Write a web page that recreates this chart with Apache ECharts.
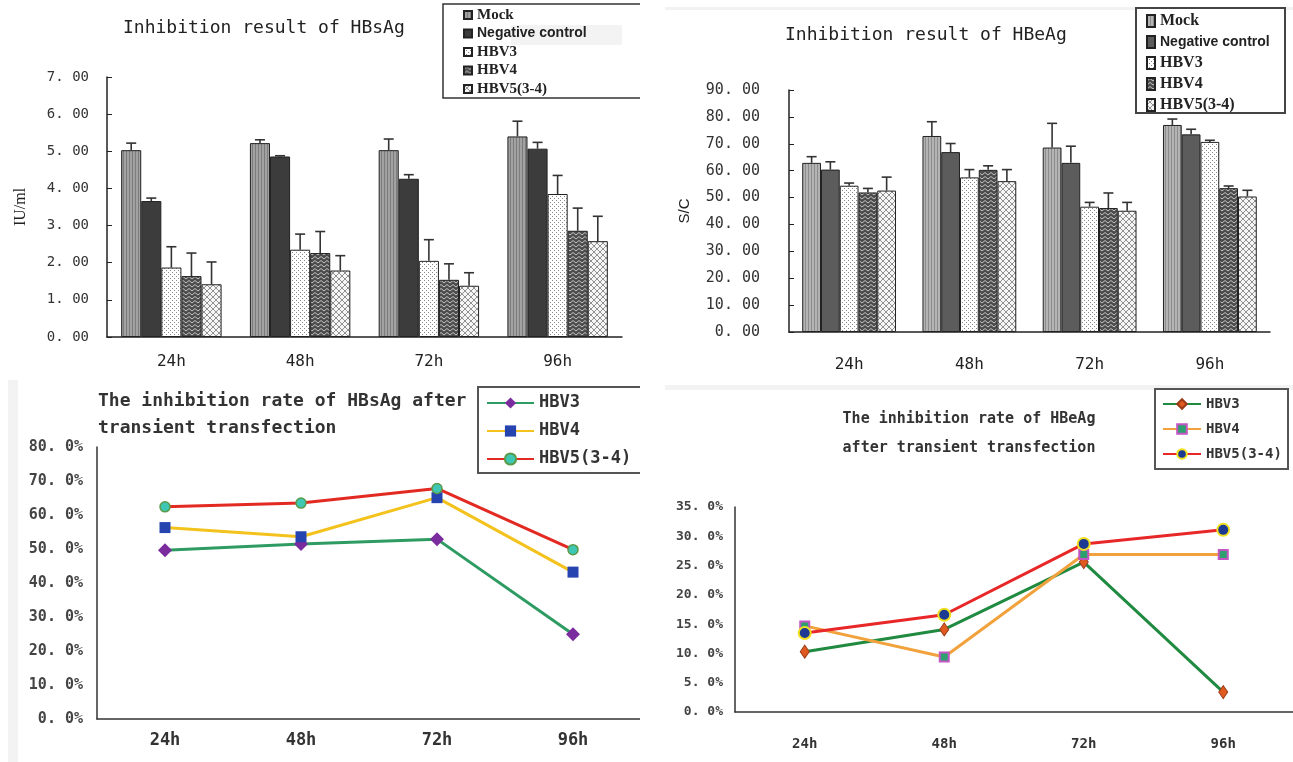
<!DOCTYPE html>
<html>
<head>
<meta charset="utf-8">
<script src="https://cdn.jsdelivr.net/npm/echarts@6/dist/echarts.min.js"></script>
<style>
  html, body { margin: 0; padding: 0; background: #fff; }
  .panel { position: absolute; }
</style>
</head>
<body>
<div id="hbsBar" class="panel" style="left:0;top:0;width:640px;height:380px"></div>
<div id="hbeBar" class="panel" style="left:640px;top:0;width:653px;height:380px"></div>
<div id="hbsRate" class="panel" style="left:0;top:380px;width:640px;height:382px"></div>
<div id="hbeRate" class="panel" style="left:640px;top:380px;width:653px;height:382px"></div>
<script>
const hours = ['24h', '48h', '72h', '96h']
const barGroups = ['Mock', 'Negative control', 'HBV3', 'HBV4', 'HBV5(3-4)']
const rateGroups = ['HBV3', 'HBV4', 'HBV5(3-4)']

// HBsAg, IU/ml (mean and sd)
const hbsMock = [5.03, 5.22, 5.03, 5.40]
const hbsMockSd = [0.19, 0.09, 0.30, 0.41]
const hbsNeg = [3.66, 4.86, 4.26, 5.07]
const hbsNegSd = [0.08, 0.02, 0.11, 0.17]
const hbsV3 = [1.87, 2.35, 2.05, 3.85]
const hbsV3Sd = [0.56, 0.42, 0.57, 0.50]
const hbsV4 = [1.64, 2.26, 1.54, 2.86]
const hbsV4Sd = [0.62, 0.58, 0.43, 0.61]
const hbsV5 = [1.42, 1.79, 1.38, 2.58]
const hbsV5Sd = [0.60, 0.40, 0.35, 0.67]

// HBeAg, S/C (mean and sd)
const hbeMock = [62.9, 72.9, 68.6, 77.0]
const hbeMockSd = [2.3, 5.3, 9.0, 2.2]
const hbeNeg = [60.4, 66.9, 62.9, 73.5]
const hbeNegSd = [2.9, 3.2, 6.2, 1.9]
const hbeV3 = [54.4, 57.5, 46.6, 70.7]
const hbeV3Sd = [1.0, 2.9, 1.6, 0.6]
const hbeV4 = [51.9, 60.3, 46.1, 53.5]
const hbeV4Sd = [1.5, 1.5, 5.6, 0.8]
const hbeV5 = [52.6, 56.1, 45.1, 50.4]
const hbeV5Sd = [5.0, 4.3, 3.1, 2.3]

// inhibition rates, %
const hbsRateV3 = [49.6, 51.5, 52.9, 24.9]
const hbsRateV4 = [56.3, 53.6, 65.1, 43.2]
const hbsRateV5 = [62.4, 63.5, 67.8, 49.8]
const hbeRateV3 = [10.3, 14.1, 25.6, 3.4]
const hbeRateV4 = [14.7, 9.4, 26.9, 26.9]
const hbeRateV5 = [13.5, 16.6, 28.7, 31.1]

const MONO = '"DejaVu Sans Mono", "Liberation Mono", monospace'
const GAP = 0.22

function pat(w, h, draw) {
  const c = document.createElement('canvas')
  c.width = w
  c.height = h
  draw(c.getContext('2d'))
  return { image: c, repeat: 'repeat' }
}

function makeFills(mockBg, mockLine, neg) {
  return [
    pat(3, 3, g => {
      g.fillStyle = mockBg; g.fillRect(0, 0, 3, 3)
      g.fillStyle = mockLine; g.fillRect(0, 0, 1, 3)
    }),
    neg,
    pat(4, 4, g => {
      g.fillStyle = '#fff'; g.fillRect(0, 0, 4, 4)
      g.fillStyle = '#888'; g.fillRect(0, 0, 1, 1); g.fillRect(2, 2, 1, 1)
    }),
    pat(6, 4, g => {
      g.fillStyle = '#4c4c4c'; g.fillRect(0, 0, 6, 4)
      g.strokeStyle = '#c4c4c4'; g.lineWidth = 1
      g.beginPath(); g.moveTo(0, 3); g.lineTo(3, 0.5); g.lineTo(6, 3); g.stroke()
    }),
    pat(6, 6, g => {
      g.fillStyle = '#f6f6f6'; g.fillRect(0, 0, 6, 6)
      g.strokeStyle = '#909090'; g.lineWidth = 1
      g.beginPath(); g.moveTo(0, 0); g.lineTo(6, 6); g.moveTo(6, 0); g.lineTo(0, 6); g.stroke()
    })
  ]
}

function errSeries(vals, sds, k) {
  return {
    type: 'custom',
    z: 3,
    silent: true,
    encode: { x: 0, y: 1 },
    data: vals.map((v, i) => [i, v, v + sds[i]]),
    renderItem(params, api) {
      const p0 = api.coord([api.value(0), api.value(1)])
      const p1 = api.coord([api.value(0), api.value(2)])
      const cw = api.size([1, 0])[0]
      const bw = cw * (1 - GAP) / 5
      const x = p0[0] - 2.5 * bw + (k + 0.5) * bw
      const st = { stroke: '#333', lineWidth: 1.6 }
      return {
        type: 'group',
        children: [
          { type: 'line', shape: { x1: x, y1: p0[1], x2: x, y2: p1[1] }, style: st },
          { type: 'line', shape: { x1: x - 5, y1: p1[1], x2: x + 5, y2: p1[1] }, style: st }
        ]
      }
    }
  }
}

function barOption(o) {
  const series = []
  o.vals.forEach((v, k) => {
    series.push({
      name: barGroups[k],
      type: 'bar',
      data: v,
      barGap: '0%',
      barCategoryGap: (GAP * 100) + '%',
      itemStyle: { color: o.fills[k], borderColor: '#222', borderWidth: 1 }
    })
  })
  o.vals.forEach((v, k) => series.push(errSeries(v, o.sds[k], k)))
  return {
    animation: false,
    grid: Object.assign({ outerBoundsMode: 'none' }, o.grid),
    xAxis: {
      type: 'category',
      data: hours,
      axisLine: { lineStyle: { color: '#222', width: 1.5 } },
      axisTick: { inside: true, length: 5, lineStyle: { color: '#222', width: 1.5 } },
      axisLabel: { margin: o.xMargin, fontFamily: MONO, fontSize: 16, color: '#222' }
    },
    yAxis: {
      type: 'value',
      min: 0,
      max: o.max,
      interval: o.interval,
      name: o.yName,
      nameLocation: 'middle',
      nameGap: o.nameGap,
      nameRotate: 90,
      nameTextStyle: o.nameStyle,
      axisLine: { show: true, lineStyle: { color: '#222', width: 1.5 } },
      axisTick: { show: true, inside: true, length: 5, lineStyle: { color: '#222' } },
      splitLine: { show: false },
      axisLabel: {
        margin: o.yMargin,
        fontFamily: MONO,
        fontSize: o.yFont,
        color: '#333',
        formatter: v => v.toFixed(2).replace('.', '. ')
      }
    },
    legend: Object.assign({
      orient: 'vertical',
      padding: 0,
      icon: 'rect',
      data: barGroups,
      formatter: n => n === 'Negative control' ? '{s|' + n + '}' : n
    }, o.legend),
    graphic: o.graphic,
    series: series
  }
}

const hbsBar = echarts.init(document.getElementById('hbsBar'))
hbsBar.setOption(barOption({
  vals: [hbsMock, hbsNeg, hbsV3, hbsV4, hbsV5],
  sds: [hbsMockSd, hbsNegSd, hbsV3Sd, hbsV4Sd, hbsV5Sd],
  fills: makeFills('#a2a2a2', '#7c7c7c', '#3c3c3c'),
  grid: { left: 107, right: 18, top: 77, bottom: 43 },
  max: 7, interval: 1,
  yName: 'IU/ml', nameGap: 78,
  nameStyle: { fontFamily: '"Liberation Serif", serif', fontSize: 16, color: '#222' },
  yMargin: 18, yFont: 14, xMargin: 17,
  legend: {
    left: 463, top: 7, itemWidth: 8, itemHeight: 8, itemGap: 2.5,
    textStyle: {
      fontFamily: '"Liberation Serif", serif', fontWeight: 'bold', fontSize: 15, lineHeight: 16, color: '#222',
      rich: { s: { fontFamily: '"Liberation Sans", Arial, sans-serif', fontWeight: 'bold', fontSize: 14, lineHeight: 16, color: '#222' } }
    }
  },
  graphic: [
    { type: 'rect', z: 0, shape: { x: 511, y: 25, width: 111, height: 20 }, style: { fill: '#f3f3f3' } },
    { type: 'rect', z: 0, shape: { x: 443, y: 4, width: 260, height: 94 }, style: { fill: 'none', stroke: '#333', lineWidth: 1.5 } },
    { type: 'text', x: 123, y: 28, style: { text: 'Inhibition result of HBsAg', font: '18px ' + MONO, fill: '#222', verticalAlign: 'middle' } }
  ]
}))

const hbeBar = echarts.init(document.getElementById('hbeBar'))
hbeBar.setOption(barOption({
  vals: [hbeMock, hbeNeg, hbeV3, hbeV4, hbeV5],
  sds: [hbeMockSd, hbeNegSd, hbeV3Sd, hbeV4Sd, hbeV5Sd],
  fills: makeFills('#b4b4b4', '#8c8c8c', '#5c5c5c'),
  grid: { left: 149, right: 23, top: 90, bottom: 48 },
  max: 90, interval: 10,
  yName: 'S/C', nameGap: 97,
  nameStyle: { fontFamily: '"Liberation Sans", sans-serif', fontSize: 15, color: '#222' },
  yMargin: 29, yFont: 15, xMargin: 25,
  legend: {
    left: 506, top: 13, itemWidth: 8, itemHeight: 12, itemGap: 5,
    textStyle: {
      fontFamily: '"Liberation Serif", serif', fontWeight: 'bold', fontSize: 16, lineHeight: 16, color: '#222',
      rich: { s: { fontFamily: '"Liberation Sans", Arial, sans-serif', fontSize: 14, lineHeight: 16, color: '#222' } }
    }
  },
  graphic: [
    { type: 'rect', z: 0, shape: { x: 25, y: 7, width: 640, height: 3 }, style: { fill: '#f2f2f2' } },
    { type: 'rect', z: 0, shape: { x: 496, y: 8, width: 149, height: 105 }, style: { fill: '#fff', stroke: '#444', lineWidth: 2 } },
    { type: 'text', x: 145, y: 35, style: { text: 'Inhibition result of HBeAg', font: '18px ' + MONO, fill: '#222', verticalAlign: 'middle' } }
  ]
}))

function rateOption(o) {
  return {
    animation: false,
    grid: Object.assign({ outerBoundsMode: 'none' }, o.grid),
    xAxis: {
      type: 'category',
      data: hours,
      axisLine: { lineStyle: { color: '#333', width: 1.5 } },
      axisTick: { inside: true, length: 4, lineStyle: { color: '#333', width: 1.5 } },
      axisLabel: { margin: o.xMargin, fontFamily: MONO, fontWeight: 'bold', fontSize: o.xFont, color: '#333' }
    },
    yAxis: {
      type: 'value',
      min: 0,
      max: o.max,
      interval: o.interval,
      axisLine: { show: true, lineStyle: { color: '#333', width: 1.5 } },
      axisTick: { show: false },
      splitLine: { show: false },
      axisLabel: {
        margin: o.yMargin,
        fontFamily: MONO,
        fontWeight: 'bold',
        fontSize: o.yFont,
        color: '#444',
        formatter: v => v.toFixed(1).replace('.', '. ') + '%'
      }
    },
    legend: Object.assign({ orient: 'vertical', padding: 0, data: rateGroups }, o.legend),
    graphic: o.graphic,
    series: o.vals.map((v, k) => Object.assign({
      name: rateGroups[k],
      type: 'line',
      data: v,
      lineStyle: { width: 3, color: o.lines[k] }
    }, o.marks[k]))
  }
}

const hbsRate = echarts.init(document.getElementById('hbsRate'))
hbsRate.setOption(rateOption({
  vals: [hbsRateV3, hbsRateV4, hbsRateV5],
  lines: ['#2e9c62', '#f4c21c', '#e22a22'],
  marks: [
    { symbol: 'diamond', symbolSize: 14, itemStyle: { color: '#7a2c9e' } },
    { symbol: 'rect', symbolSize: 11, itemStyle: { color: '#2544b0' } },
    { symbol: 'circle', symbolSize: 10, itemStyle: { color: '#3ec8b4', borderColor: '#5a9a4a', borderWidth: 1.5 } }
  ],
  grid: { left: 97, right: -1, top: 67, bottom: 43 },
  max: 80, interval: 10,
  yMargin: 14, yFont: 15, xMargin: 13, xFont: 17,
  legend: {
    left: 486, top: 13, itemWidth: 47, itemHeight: 14, itemGap: 8,
    textStyle: { fontFamily: MONO, fontWeight: 'bold', fontSize: 17, lineHeight: 20, color: '#333' }
  },
  graphic: [
    { type: 'rect', z: 0, shape: { x: 8, y: 0, width: 10, height: 382 }, style: { fill: '#f3f3f3' } },
    { type: 'rect', z: 0, shape: { x: 478, y: 7, width: 180, height: 86 }, style: { fill: '#fff', stroke: '#555', lineWidth: 2 } },
    { type: 'text', x: 98, y: 8, style: { text: 'The inhibition rate of HBsAg after\ntransient transfection', font: 'bold 18px ' + MONO, lineHeight: 27, fill: '#333', verticalAlign: 'top' } }
  ]
}))

const hbeRate = echarts.init(document.getElementById('hbeRate'))
hbeRate.setOption(rateOption({
  vals: [hbeRateV3, hbeRateV4, hbeRateV5],
  lines: ['#1f8a40', '#f2a23c', '#e82828'],
  marks: [
    { symbol: 'diamond', symbolSize: [9, 13], itemStyle: { color: '#e0591f', borderColor: '#9a3a18', borderWidth: 1 } },
    { symbol: 'rect', symbolSize: 9, itemStyle: { color: '#2ea070', borderColor: '#c455c4', borderWidth: 2 } },
    { symbol: 'circle', symbolSize: 12, itemStyle: { color: '#1c3a92', borderColor: '#f0e020', borderWidth: 2 } }
  ],
  grid: { left: 95, right: 0, top: 127, bottom: 50 },
  max: 35, interval: 5,
  yMargin: 12, yFont: 13, xMargin: 25, xFont: 14,
  legend: {
    left: 522, top: 15, itemWidth: 38, itemHeight: 12, itemGap: 7,
    textStyle: { fontFamily: MONO, fontWeight: 'bold', fontSize: 14, lineHeight: 18, color: '#333' }
  },
  graphic: [
    { type: 'rect', z: 0, shape: { x: 25, y: 5, width: 640, height: 5 }, style: { fill: '#f3f3f3' } },
    { type: 'rect', z: 0, shape: { x: 515, y: 9, width: 133, height: 80 }, style: { fill: '#fff', stroke: '#555', lineWidth: 2 } },
    { type: 'text', x: 329, y: 25, style: { text: 'The inhibition rate of HBeAg\nafter transient transfection', font: 'bold 15px ' + MONO, lineHeight: 29, fill: '#333', align: 'center', verticalAlign: 'top' } }
  ]
}))
</script>
</body>
</html>
